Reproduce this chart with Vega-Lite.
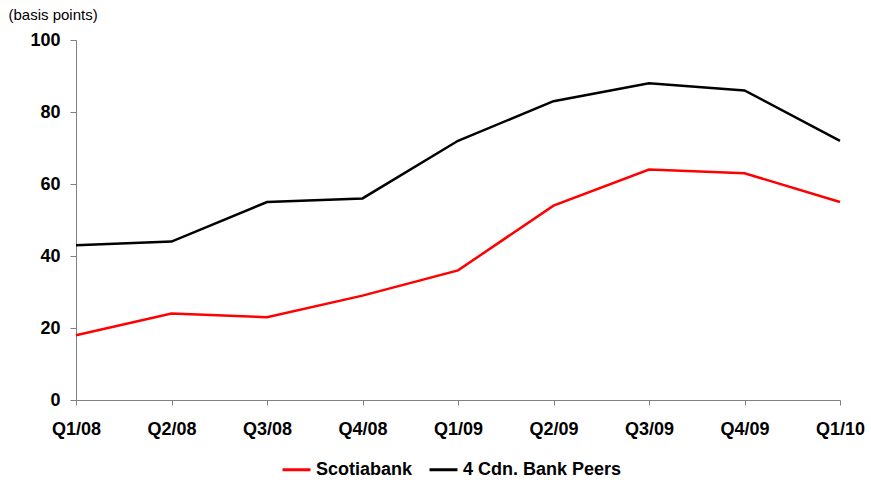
{
  "$schema": "https://vega.github.io/schema/vega-lite/v6.json",
  "autosize": "none",
  "width": 764,
  "height": 360,
  "padding": {"left": 76, "top": 40, "right": 31, "bottom": 83},
  "background": "white",
  "config": {
    "view": {"stroke": null},
    "font": "Liberation Sans",
    "axis": {"grid": false, "domainColor": "#808080", "tickColor": "#808080", "labelColor": "#000000", "labelFontWeight": "bold"}
  },
  "data": {
    "values": [
      {"quarter": "Q1/08", "series": "Scotiabank", "bp": 18},
      {"quarter": "Q2/08", "series": "Scotiabank", "bp": 24},
      {"quarter": "Q3/08", "series": "Scotiabank", "bp": 23},
      {"quarter": "Q4/08", "series": "Scotiabank", "bp": 29},
      {"quarter": "Q1/09", "series": "Scotiabank", "bp": 36},
      {"quarter": "Q2/09", "series": "Scotiabank", "bp": 54},
      {"quarter": "Q3/09", "series": "Scotiabank", "bp": 64},
      {"quarter": "Q4/09", "series": "Scotiabank", "bp": 63},
      {"quarter": "Q1/10", "series": "Scotiabank", "bp": 55},
      {"quarter": "Q1/08", "series": "4 Cdn. Bank Peers", "bp": 43},
      {"quarter": "Q2/08", "series": "4 Cdn. Bank Peers", "bp": 44},
      {"quarter": "Q3/08", "series": "4 Cdn. Bank Peers", "bp": 55},
      {"quarter": "Q4/08", "series": "4 Cdn. Bank Peers", "bp": 56},
      {"quarter": "Q1/09", "series": "4 Cdn. Bank Peers", "bp": 72},
      {"quarter": "Q2/09", "series": "4 Cdn. Bank Peers", "bp": 83},
      {"quarter": "Q3/09", "series": "4 Cdn. Bank Peers", "bp": 88},
      {"quarter": "Q4/09", "series": "4 Cdn. Bank Peers", "bp": 86},
      {"quarter": "Q1/10", "series": "4 Cdn. Bank Peers", "bp": 72}
    ]
  },
  "mark": {"type": "line", "strokeWidth": 2.5},
  "encoding": {
    "x": {
      "field": "quarter",
      "type": "ordinal",
      "sort": null,
      "scale": {"type": "point", "padding": 0},
      "axis": {"title": null, "labelAngle": 0, "tickSize": 5, "labelPadding": 15, "labelFontSize": 18}
    },
    "y": {
      "field": "bp",
      "type": "quantitative",
      "scale": {"domain": [0, 100], "nice": false},
      "axis": {
        "values": [0, 20, 40, 60, 80, 100],
        "tickSize": 6,
        "labelPadding": 10,
        "labelFontSize": 18,
        "title": "(basis points)",
        "titleAngle": 0,
        "titleAlign": "left",
        "titleBaseline": "alphabetic",
        "titleX": -68,
        "titleY": -21,
        "titleFontSize": 15,
        "titleFontWeight": "normal"
      }
    },
    "color": {
      "field": "series",
      "type": "nominal",
      "sort": ["Scotiabank", "4 Cdn. Bank Peers"],
      "scale": {"domain": ["Scotiabank", "4 Cdn. Bank Peers"], "range": ["#ff0000", "#000000"]},
      "legend": {
        "title": null,
        "orient": "none",
        "direction": "horizontal",
        "legendX": 205,
        "legendY": 414,
        "symbolType": "stroke",
        "symbolSize": 784,
        "symbolStrokeWidth": 3,
        "labelFontSize": 18,
        "labelFontWeight": "bold",
        "labelColor": "#000000",
        "labelOffset": 4,
        "columnPadding": 10
      }
    }
  }
}
